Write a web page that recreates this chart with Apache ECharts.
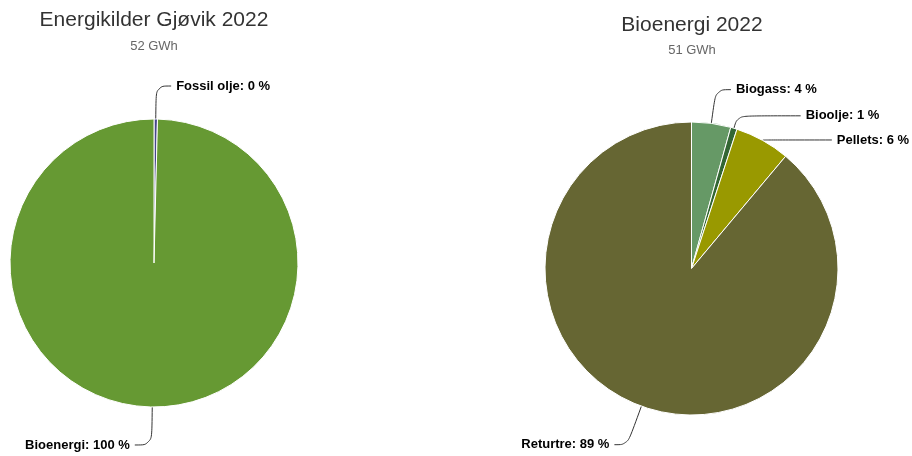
<!DOCTYPE html>
<html>
<head>
<meta charset="utf-8">
<script src="https://cdn.jsdelivr.net/npm/echarts@6/dist/echarts.min.js"></script>
<style>html,body{margin:0;padding:0;background:#fff;}#c{width:912px;height:456px;}</style>
</head>
<body>
<div id="c"></div>
<script>
// Left chart: energy sources (GWh)
const leftTitle = 'Energikilder Gjøvik 2022';
const leftSubtitle = '52 GWh';
const leftNames = ['Fossil olje', 'Bioenergi'];
const leftValues = [0.2, 51.6];

// Right chart: bioenergy (GWh)
const rightTitle = 'Bioenergi 2022';
const rightSubtitle = '51 GWh';
const rightNames = ['Biogass', 'Bioolje', 'Pellets', 'Returtre'];
const rightValues = [2.2, 0.36, 3.1, 45.3];

// Styling
const colors = {
  'Fossil olje': '#46468a',
  'Bioenergi': '#669933',
  'Biogass': '#669966',
  'Bioolje': '#336633',
  'Pellets': '#999900',
  'Returtre': '#666633'
};
const lineLens = {
  'Fossil olje': [33, 15],
  'Bioenergi': [38, 17],
  'Biogass': [34, 15],
  'Bioolje': [13, 63],
  'Pellets': [0.5, 69],
  'Returtre': [41, 13]
};

function buildData(names, values) {
  return names.map((n, i) => ({
    name: n,
    value: values[i],
    itemStyle: { color: colors[n] },
    labelLine: { length: lineLens[n][0], length2: lineLens[n][1] }
  }));
}

const labelCfg = {
  show: true,
  position: 'outside',
  formatter: p => p.name + ': ' + Math.round(p.percent) + ' %',
  fontFamily: 'Liberation Sans, Arial, sans-serif',
  fontWeight: 'bold',
  fontSize: 13,
  color: '#000',
  distanceToLabelLine: 5
};
const lineCfg = { show: true, smooth: 0.4, lineStyle: { color: '#333', width: 1 } };

const chart = echarts.init(document.getElementById('c'), null, { renderer: 'canvas' });
chart.setOption({
  animation: false,
  title: [
    {
      text: leftTitle, subtext: leftSubtitle,
      left: 154, top: 10, textAlign: 'center', padding: 0, itemGap: 9,
      textStyle: { fontFamily: 'Liberation Sans, Arial, sans-serif', fontSize: 21, fontWeight: 'normal', color: '#333' },
      subtextStyle: { fontFamily: 'Liberation Sans, Arial, sans-serif', fontSize: 13, color: '#666' }
    },
    {
      text: rightTitle, subtext: rightSubtitle,
      left: 692, top: 15, textAlign: 'center', padding: 0, itemGap: 8,
      textStyle: { fontFamily: 'Liberation Sans, Arial, sans-serif', fontSize: 21, fontWeight: 'normal', color: '#333' },
      subtextStyle: { fontFamily: 'Liberation Sans, Arial, sans-serif', fontSize: 13, color: '#666' }
    }
  ],
  series: [
    {
      type: 'pie',
      center: [154, 263],
      radius: [0, 144],
      startAngle: 90,
      clockwise: true,
      avoidLabelOverlap: false,
      minAngle: 0,
      itemStyle: { borderColor: '#fff', borderWidth: 1 },
      label: labelCfg,
      labelLine: lineCfg,
      emphasis: { disabled: true },
      data: buildData(leftNames, leftValues)
    },
    {
      type: 'pie',
      center: [691.5, 268.5],
      radius: [0, 146.5],
      startAngle: 90,
      clockwise: true,
      avoidLabelOverlap: false,
      itemStyle: { borderColor: '#fff', borderWidth: 1 },
      label: labelCfg,
      labelLine: lineCfg,
      emphasis: { disabled: true },
      data: buildData(rightNames, rightValues)
    }
  ]
});
</script>
</body>
</html>
